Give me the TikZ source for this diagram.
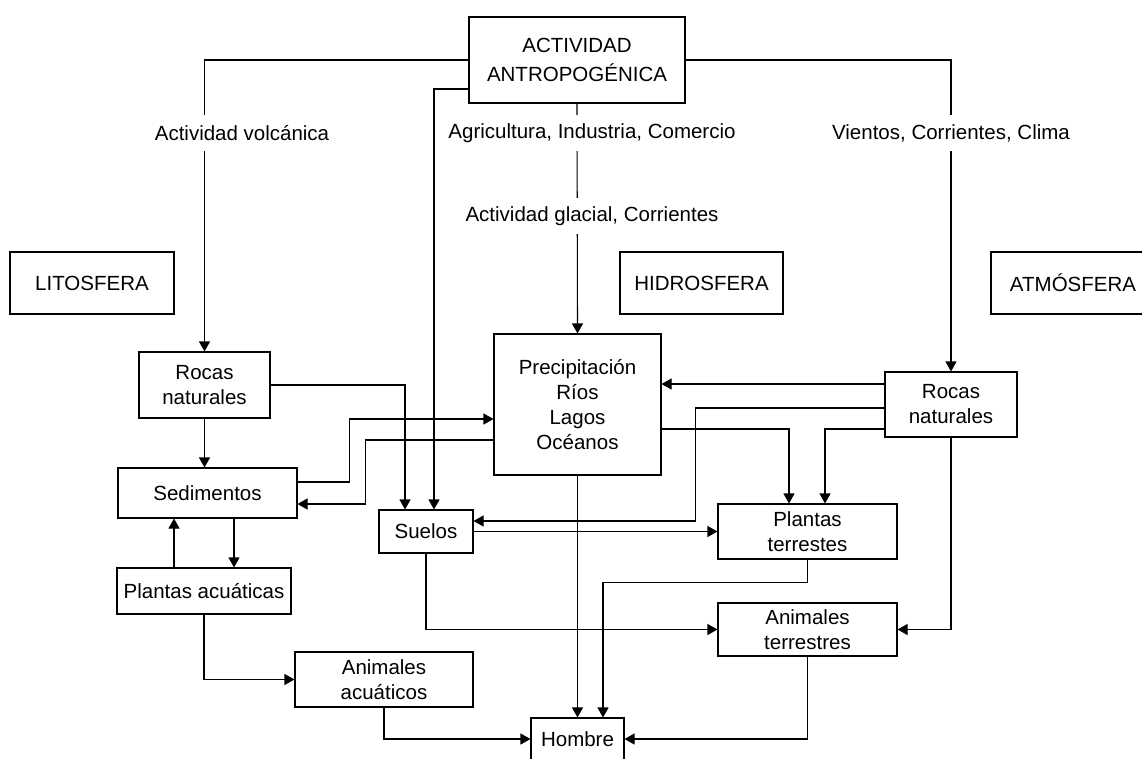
\documentclass[tikz,border=0pt]{standalone}
\usepackage{fontspec}
\setmainfont{Liberation Sans}
\usetikzlibrary{arrows.meta}

\begin{document}
\begin{tikzpicture}[x=1pt,y=-1pt,
    box/.style={
      draw=black,
      line width=1.1pt,
      inner sep=0pt,
      align=center,
      font=\fontsize{20.5}{25}\selectfont
    },
    flow/.style={->,line width=1.1pt,>={Triangle[length=10pt,width=11pt]}},
    lbl/.style={fill=white,inner xsep=3pt,inner ysep=0pt,minimum height=36pt,font=\fontsize{20.5}{25}\selectfont}]

\clip (0,0) rectangle (1142,758);
\fill[white] (0,0) rectangle (1142,758);

\node[box, minimum width=216pt, minimum height=86pt] (ac) at (577,60) {ACTIVIDAD\\[4pt]ANTROPOGÉNICA};

\node[box, minimum width=164pt, minimum height=62pt] (li) at (92,283) {LITOSFERA};
\node[box, minimum width=163pt, minimum height=62pt] (hi) at (701.5,283) {HIDROSFERA};
\node[box, minimum width=164pt, minimum height=62pt] (at) at (1073,283) {ATMÓSFERA};

\node[box, minimum width=131pt, minimum height=66pt] (rl) at (204.5,385) {Rocas\\naturales};
\node[box, minimum width=179pt, minimum height=50pt] (se) at (207.5,493) {Sedimentos};
\node[box, minimum width=174pt, minimum height=46pt] (pa) at (204,591) {Plantas acuáticas};
\node[box, minimum width=178pt, minimum height=55pt] (aq) at (384,679.5) {Animales\\acuáticos};
\node[box, minimum width=94pt, minimum height=43pt] (su) at (426,531.5) {Suelos};
\node[box, minimum width=167pt, minimum height=141pt] (pr) at (577.5,404.5) {Precipitación\\Ríos\\Lagos\\Océanos};
\node[box, minimum width=132pt, minimum height=65pt] (rr) at (951,404.5) {Rocas\\naturales};
\node[box, minimum width=179pt, minimum height=55pt] (pt) at (807.5,531.5) {Plantas\\terrestes};
\node[box, minimum width=179pt, minimum height=53pt] (an) at (807.5,629.5) {Animales\\terrestres};
\node[box, minimum width=93pt, minimum height=42pt] (ho) at (577.5,739) {Hombre};

\draw[flow] (ac.west) -| (rl.north);
\draw[flow] ([yshift=-29pt]ac.west) -| ([xshift=8pt]su.north);
\draw[flow] (ac.south) -- (pr.north);
\draw[flow] (ac.east) -| (rr.north);

\draw[flow] (rl.east) -| ([xshift=-21pt]su.north);
\draw[flow] (rl.south) -- (rl.south |- se.north);
\draw[flow] ([yshift=11pt]se.east) -- ++(52,0) |- ([yshift=-14.5pt]pr.west);
\draw[flow] ([yshift=-35.5pt]pr.west) -- ++(-128,0) |- ([yshift=-11pt]se.east);
\draw[flow] ([xshift=26.5pt]se.south) -- ([xshift=26.5pt]se.south |- pa.north);
\draw[flow] ([xshift=-30pt]pa.north) -- ([xshift=-30pt]pa.north |- se.south);
\draw[flow] (pa.south) |- (aq.west);
\draw[flow] (aq.south) |- (ho.west);
\draw[flow] (pr.south) -- (ho.north);

\draw[flow] ([yshift=20.5pt]rr.west) -- ([yshift=20.5pt]rr.west -| pr.east);
\draw[flow] ([yshift=-3.5pt]rr.west) -- ++(-189,0) |- ([yshift=10.5pt]su.east);
\draw[flow] ([yshift=-24.5pt]pr.east) -| ([xshift=-18.5pt]pt.north);
\draw[flow] ([yshift=-24.5pt]rr.west) -| ([xshift=17.5pt]pt.north);
\draw[flow] (su.east) -- (pt.west);
\draw[flow] (pt.south) -- ++(0,23) -| ([xshift=25.5pt]ho.north);
\draw[flow] (su.south) |- (an.west);
\draw[flow] (rr.south) |- (an.east);
\draw[flow] (an.south) |- (ho.east);

\node[lbl] (lv) at (242,133) {Actividad volcánica};
\node[lbl] (lc) at (592,133) {Agricultura, Industria, Comercio};
\node[lbl] (lg) at (592,216) {Actividad glacial, Corrientes};
\node[lbl] (lw) at (951,133) {Vientos, Corrientes, Clima};

\end{tikzpicture}
\end{document}
